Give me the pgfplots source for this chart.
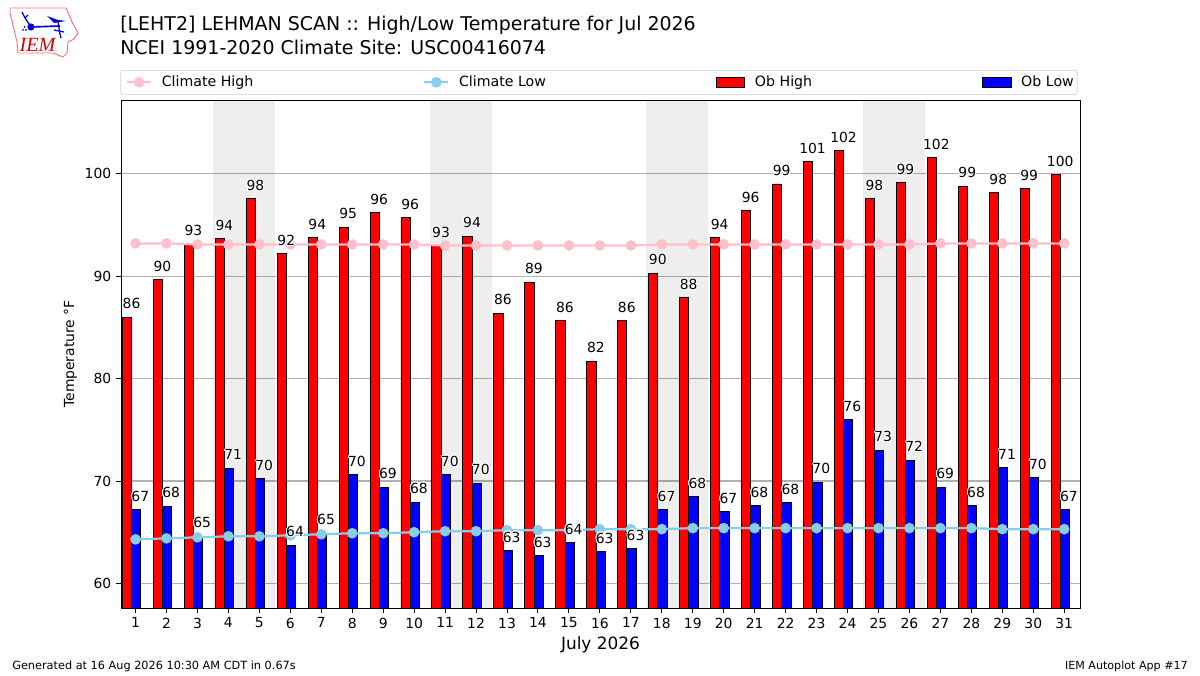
\documentclass[border=0pt]{standalone}
\usepackage{pgfplots}
\usepackage{pgfplotstable}
\usepackage{fontspec}
\usepackage[copies]{contour}
\pgfplotsset{compat=1.18}
\setmainfont{DejaVu Sans}
\contourlength{0.7pt}
\newcommand{\fs}[1]{\fontsize{#1}{#1}\selectfont}
\definecolor{climhi}{HTML}{FFC0CB}
\definecolor{climlo}{HTML}{87CEEB}
\definecolor{gridc}{HTML}{B0B0B0}

\pgfplotstableread{
day high hl low ll chigh clow
1 86.0 86 67.2 67 93.2 64.3
2 89.65 90 67.55 68 93.2 64.4
3 93.2 93 64.6 65 93.1 64.5
4 93.65 94 71.25 71 93.1 64.6
5 97.55 98 70.2 70 93.1 64.6
6 92.2 92 63.75 64 93.1 64.7
7 93.75 94 64.9 65 93.1 64.8
8 94.8 95 70.6 70 93.1 64.9
9 96.2 96 69.4 69 93.1 64.9
10 95.7 96 67.95 68 93.1 65.0
11 92.95 93 70.6 70 93.0 65.1
12 93.9 94 69.8 70 93.0 65.1
13 86.4 86 63.2 63 93.0 65.2
14 89.4 89 62.7 63 93.0 65.2
15 85.65 86 64.0 64 93.0 65.2
16 81.7 82 63.1 63 93.0 65.3
17 85.65 86 63.4 63 93.0 65.3
18 90.3 90 67.2 67 93.1 65.3
19 87.9 88 68.5 68 93.1 65.4
20 93.75 94 67.0 67 93.1 65.4
21 96.4 96 67.6 68 93.1 65.4
22 99.0 99 67.9 68 93.1 65.4
23 101.2 101 69.9 70 93.1 65.4
24 102.25 102 76.0 76 93.1 65.4
25 97.55 98 73.0 73 93.1 65.4
26 99.1 99 72.05 72 93.1 65.4
27 101.55 102 69.4 69 93.2 65.4
28 98.8 99 67.6 68 93.2 65.4
29 98.15 98 71.3 71 93.2 65.3
30 98.55 99 70.3 70 93.2 65.3
31 99.9 100 67.2 67 93.2 65.3
}\tempdata

\begin{document}
\begin{tikzpicture}[x=0.72pt,y=0.72pt]
\path[use as bounding box] (0,0) rectangle (1200,675);

\begin{axis}[
  at={(87.12pt,48.24pt)}, anchor=south west,
  scale only axis,
  width=690.48pt, height=365.76pt,
  xmin=0.53, xmax=31.51, ymin=57.6, ymax=107.2,
  xtick={1,...,31}, ytick={60,70,80,90,100},
  tick pos=lower, tick align=outside,
  major tick length=3.5pt,
  every tick/.style={black,line width=0.7pt},
  axis line style={line width=0.7pt},
  ymajorgrids,
  grid style={gridc,line width=0.8pt},
  /pgf/number format/assume math mode=true,
  tick label style={font=\fs{10}},
  xlabel={July 2026}, xlabel style={font=\fs{12.2}}, xlabel shift=-1pt,
  ylabel={Temperature °F}, ylabel style={font=\fs{10}}, ylabel shift=-1.4pt,
  legend columns=4,
  legend cell align=left,
  legend style={at={(0,1)}, anchor=south west, yshift=3.9pt, xshift=-0.5pt,
    draw=black!20, rounded corners=1.5pt, font=\fs{10.2}, inner xsep=4pt,
    /tikz/every odd column/.append style={column sep=5pt},
    /tikz/every even column/.append style={column sep=120.4pt}},
]
% weekends
\addplot[fill=black, fill opacity=0.067, draw=none, forget plot] coordinates {(3.5,57.6)(5.5,57.6)(5.5,107.2)(3.5,107.2)} -- cycle;
\addplot[fill=black, fill opacity=0.067, draw=none, forget plot] coordinates {(10.5,57.6)(12.5,57.6)(12.5,107.2)(10.5,107.2)} -- cycle;
\addplot[fill=black, fill opacity=0.067, draw=none, forget plot] coordinates {(17.5,57.6)(19.5,57.6)(19.5,107.2)(17.5,107.2)} -- cycle;
\addplot[fill=black, fill opacity=0.067, draw=none, forget plot] coordinates {(24.5,57.6)(26.5,57.6)(26.5,107.2)(24.5,107.2)} -- cycle;

\addplot[forget plot, ybar, bar width=0.3, bar shift=-0.275, fill=red, draw=black, line width=0.7pt] table[x=day,y=high] \tempdata;
\addplot[forget plot, ybar, bar width=0.3, bar shift=0.025, fill=blue, draw=black, line width=0.7pt] table[x=day,y=low] \tempdata;

\addplot[climhi, line width=1.6pt, mark=*, mark size=3pt, mark options={draw=none,fill=climhi}] table[x=day,y=chigh] \tempdata;
\addlegendentry{Climate High}
\addplot[climlo, line width=1.6pt, mark=*, mark size=3pt, mark options={draw=none,fill=climlo}] table[x=day,y=clow] \tempdata;
\addlegendentry{Climate Low}
\addlegendimage{legend image code/.code={\draw[sharp corners,fill=red,draw=black,line width=0.7pt] (0pt,-3.5pt) rectangle (20.4pt,3.5pt);}}
\addlegendentry{Ob High}
\addlegendimage{legend image code/.code={\draw[sharp corners,fill=blue,draw=black,line width=0.7pt] (0pt,-3.5pt) rectangle (20.4pt,3.5pt);}}
\addlegendentry{Ob Low\hspace*{-3.5pt}}

% value labels
\addplot[forget plot, draw=none, mark=none, point meta=explicit symbolic,
  nodes near coords={\contour{white}{\pgfplotspointmeta}},
  every node near coord/.append style={anchor=base, inner sep=0pt, font=\fs{10}, black, xshift=-2.9pt, yshift=6pt}]
  table[x=day,y=high,meta=hl] \tempdata;
\addplot[forget plot, draw=none, mark=none, point meta=explicit symbolic,
  nodes near coords={\contour{white}{\pgfplotspointmeta}},
  every node near coord/.append style={anchor=base, inner sep=0pt, font=\fs{10}, black, xshift=3.4pt, yshift=6pt}]
  table[x=day,y=low,meta=ll] \tempdata;
\end{axis}

% titles and footers
\node[anchor=base west, inner sep=0pt, font=\fs{13.65}] at (120,644) {[LEHT2] LEHMAN SCAN :: High/Low Temperature for Jul 2026};
\node[anchor=base west, inner sep=0pt, font=\fs{13.65}] at (120,620) {NCEI 1991-2020 Climate Site: USC00416074};
\node[anchor=base west, inner sep=0pt, font=\fs{8.13}] at (12,6) {Generated at 16 Aug 2026 10:30 AM CDT in 0.67s};
\node[anchor=base east, inner sep=0pt, font=\fs{8}] at (1188,6) {IEM Autoplot App \#17};

% logo
\begin{scope}[shift={(0,675)},y=-0.72pt]
\draw[red!55!white, line width=0.7pt, line join=round]
  (10,8)--(66,8)--(69,15)--(73,24)--(78,33)--(74,39)--(68,42)--(67,53)--(63,57)--(53,53)--(18,53)--(17,42)--(13,25)--(10,13)--cycle;
\draw[blue!85!black, line width=1.2pt] (31,27)--(60,26);
\draw[blue!85!black, line width=0.9pt] (58,22)--(60,34) (54,30)--(64,32) (60,34)--(61,38);
\fill[blue!85!black] (31,27) circle (3.6);
\fill[blue!85!black] (47,16)--(58,20)--(66,21)--(54,23)--cycle;
\draw[blue!85!black, line width=0.9pt] (31,27)--(25,18)--(22,12) (25,18)--(28,15);
\fill[blue!85!black] (23,30) circle (1) (26,30) circle (1) (24.5,27) circle (1);
\node[font=\fs{14.5}\fontspec{Liberation Serif}\itshape, text=red!85!black, inner sep=0pt] at (37.5,44.5) {IEM};
\end{scope}
\end{tikzpicture}
\end{document}
